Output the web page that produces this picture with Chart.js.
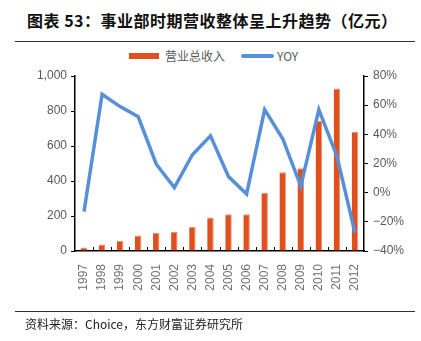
<!DOCTYPE html>
<html lang="zh">
<head>
<meta charset="UTF-8">
<title>事业部时期营收</title>
<script src="https://cdn.jsdelivr.net/npm/chart.js"></script>
<style>
    body { margin: 0; background: #fff; }
    .wrap { position: relative; width: 421px; height: 341px; overflow: hidden; font-family: "Noto Sans CJK SC", sans-serif; }
    .title { position: absolute; left: 27px; top: 8px; font-size: 16px; letter-spacing: 0.5px; font-weight: bold; color: #111; white-space: nowrap; }
    .rule { position: absolute; left: 15px; width: 400px; height: 1px; background: #333; }
    .legend { position: absolute; top: 47px; left: 129px; font-size: 12px; color: #595959; display: flex; align-items: center; }
    .legend span.sw { display: inline-block; }
    .source { position: absolute; left: 25px; top: 315px; font-size: 12px; color: #222; white-space: nowrap; }
    canvas { position: absolute; left: 0; top: 0; }
</style>
</head>
<body>
<div class="wrap">
    <div class="title">图表 53：事业部时期营收整体呈上升趋势（亿元）</div>
    <div class="rule" style="top:41px"></div>
    <div class="legend">
        <span class="sw" style="width:30px;height:6px;background:#e0501f"></span>
        <span style="margin-left:6px">营业总收入</span>
        <span class="sw" style="width:33px;height:4px;border-radius:2px;background:#5590d8;margin-left:16px"></span>
        <span style="margin-left:3px">YOY</span>
    </div>
    <canvas id="chart" width="421" height="341"></canvas>
    <div class="rule" style="top:311px"></div>
    <div class="source">资料来源：Choice，东方财富证券研究所</div>
</div>
<script>
    const years = ['1997', '1998', '1999', '2000', '2001', '2002', '2003', '2004',
        '2005', '2006', '2007', '2008', '2009', '2010', '2011', '2012'];
    const revenue = [20, 37, 58, 88, 104, 108, 138, 191, 210, 210, 332, 450, 473, 745, 928, 681];
    const yoy = [-13, 67.5, 59, 52, 19.5, 3.5, 26, 39, 11, -1, 57, 37, 4.5, 57, 25, -27.5];
    const leftTicks = [0, 200, 400, 600, 800, 1000];
    const rightTicks = [-40, -20, 0, 20, 40, 60, 80];

    // small upward tick marks between categories on the x axis
    const innerTicks = {
        id: 'innerTicks',
        afterDraw(chart) {
            const x = chart.scales.x;
            const ctx = chart.ctx;
            const n = years.length;
            ctx.save();
            ctx.strokeStyle = '#000';
            ctx.lineWidth = 1;
            for (let i = 1; i < n; i++) {
                const px = Math.round(x.left + i * (x.right - x.left) / n) + 0.5;
                ctx.beginPath();
                ctx.moveTo(px, x.top);
                ctx.lineTo(px, x.top - 4);
                ctx.stroke();
            }
            ctx.restore();
        }
    };

    new Chart(document.getElementById('chart'), {
        type: 'bar',
        data: {
            labels: years,
            datasets: [{
                type: 'line',
                label: 'YOY',
                data: yoy,
                yAxisID: 'y1',
                borderColor: '#5590d8',
                borderWidth: 3.5,
                pointRadius: 0,
                tension: 0,
                order: 0
            }, {
                label: '营业总收入',
                data: revenue,
                yAxisID: 'y',
                backgroundColor: '#e0501f',
                borderColor: '#f09070',
                borderWidth: { top: 1, left: 0, right: 1, bottom: 0 },
                borderSkipped: 'bottom',
                barPercentage: 0.36,
                categoryPercentage: 1,
                order: 1
            }]
        },
        options: {
            responsive: false,
            animation: false,
            layout: { padding: { top: 76, left: 0, right: 0, bottom: 0 } },
            plugins: { legend: { display: false }, tooltip: { enabled: false } },
            scales: {
                x: {
                    offset: true,
                    grid: { display: false },
                    border: { color: '#000', width: 1.5 },
                    ticks: {
                        color: '#707070',
                        font: { size: 12, family: 'Liberation Sans' },
                        minRotation: 90,
                        maxRotation: 90,
                        padding: 5
                    },
                    afterFit(scale) { scale.height = 90; }
                },
                y: {
                    position: 'left',
                    min: 0,
                    max: 1000,
                    afterBuildTicks(scale) { scale.ticks = leftTicks.map(v => ({ value: v })); },
                    grid: { drawOnChartArea: false, tickLength: 4, color: '#000' },
                    border: { color: '#000', width: 1.5 },
                    ticks: {
                        color: '#595959',
                        font: { size: 12, family: 'Liberation Sans' },
                        padding: 4,
                        callback: v => v.toLocaleString('en-US')
                    },
                    afterFit(scale) { scale.width = 75; }
                },
                y1: {
                    position: 'right',
                    min: -40,
                    max: 80,
                    afterBuildTicks(scale) { scale.ticks = rightTicks.map(v => ({ value: v })); },
                    grid: { drawOnChartArea: false, tickLength: 4, color: '#000' },
                    border: { color: '#000', width: 1.5 },
                    ticks: {
                        color: '#595959',
                        font: { size: 12, family: 'Liberation Sans' },
                        padding: 5,
                        callback: v => (v < 0 ? '\u2212' + (-v) : v) + '%'
                    },
                    afterFit(scale) { scale.width = 57; }
                }
            }
        },
        plugins: [innerTicks]
    });
</script>
</body>
</html>
